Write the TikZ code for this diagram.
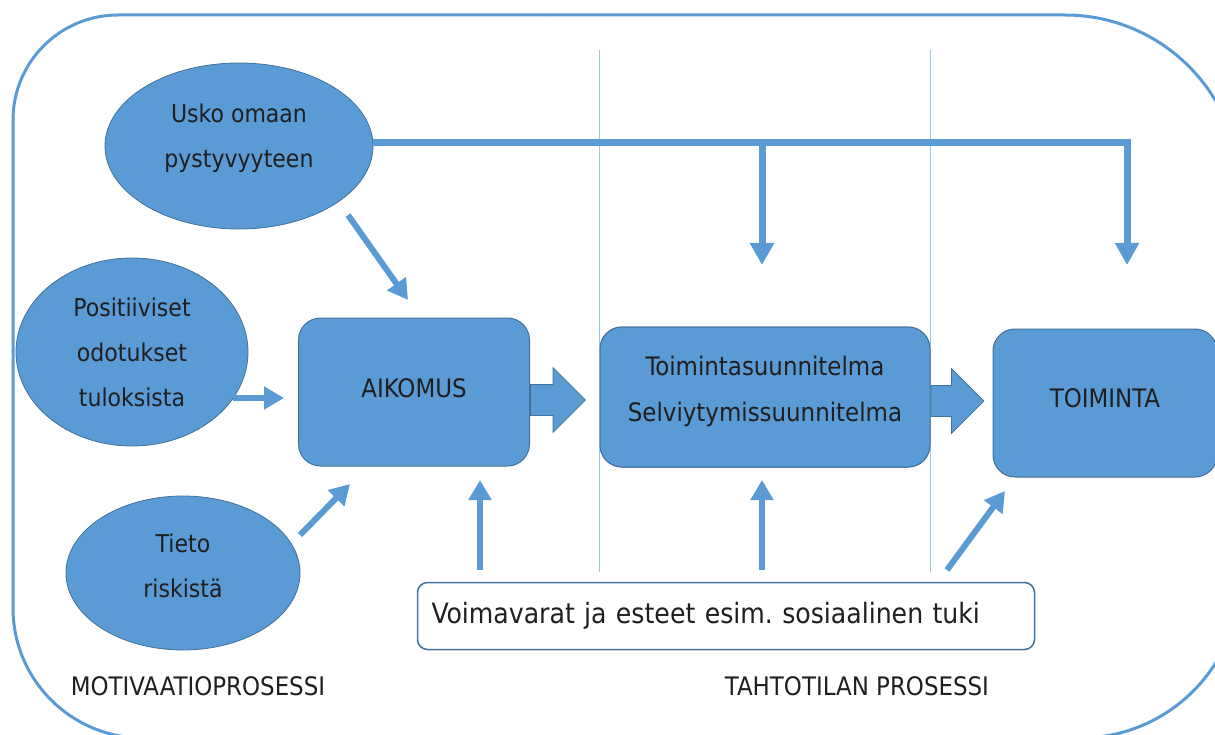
\documentclass[tikz,border=0pt]{standalone}
\usepackage{fontspec}
\setmainfont{DejaVu Sans Condensed}
\usetikzlibrary{shapes.geometric,shapes.arrows,arrows.meta,positioning}
\definecolor{blu}{HTML}{5B9BD5}
\definecolor{bluedge}{HTML}{41719C}
\definecolor{thinblu}{HTML}{9DC3E6}

\begin{document}
\begin{tikzpicture}[x=1pt, y=-1pt,
                    every node/.style = {align=center, text=black!88,
                    font=\fontsize{24.5}{45}\selectfont},
                    frame/.style = {draw=blu, line width=3pt, line cap=round},
                    oval/.style = {ellipse, fill=blu, draw=bluedge,
                    line width=0.8pt, inner sep=0pt},
                    stage/.style = {rectangle, rounded corners=22pt,
                    fill=blu, draw=bluedge, line width=1pt,
                    font=\fontsize{25.5}{46}\selectfont},
                    bigarrow/.style = {single arrow, fill=blu, draw=bluedge,
                    line width=0.8pt, inner xsep=0pt, inner ysep=15pt,
                    minimum width=64pt, single arrow head extend=17pt},
                    push/.style = {draw=blu, line width=6pt,
                    -{Triangle[width=22pt,length=20pt]}},
                    feed/.style = {draw=blu, line width=7pt,
                    -{Triangle[width=23pt,length=22pt]}},
                    divider/.style = {draw=thinblu, line width=1.5pt},
                    phase/.style = {font=\fontsize{25.5}{28}\selectfont}]
  \useasboundingbox (0,0) rectangle (1215,735);
  \clip (0,0) rectangle (1215,735);
  \draw[frame, rounded corners=105pt] (550,15) -- (13,15) -- (13,350);
  \draw[frame, rounded corners=175pt] (550,15) -- (1240,15) -- (1240,300);
  \draw[frame, rounded corners=130pt] (13,350) -- (13,738) -- (600,738);
  \draw[frame, rounded corners=160pt] (600,738) -- (1240,738) -- (1240,500);

  \node[stage, minimum width=330pt, minimum height=140pt, text depth=17pt]
    (suunnitelma) at (765,397) {Toimintasuunnitelma\\Selviytymissuunnitelma};
  \draw[divider] (suunnitelma.west |- 0,50) -- (suunnitelma.west |- 0,572);
  \draw[divider] (suunnitelma.east |- 0,50) -- (suunnitelma.east |- 0,572);
  \node[stage, minimum width=330pt, minimum height=140pt, text depth=17pt]
    at (suunnitelma) {Toimintasuunnitelma\\Selviytymissuunnitelma};

  \node[oval, minimum width=268pt, minimum height=166pt, text depth=20pt]
    (usko) at (239,146) {Usko omaan\\pystyvyyteen};
  \node[oval, minimum width=232pt, minimum height=188pt] (odotukset) at (132,352)
    {Positiiviset\\odotukset\\tuloksista};
  \node[oval, minimum width=234pt, minimum height=154pt, text depth=14pt]
    (tieto) at (183,573) {Tieto\\riskistä};
  \node[stage, minimum width=231pt, minimum height=148pt, text depth=8pt]
    (aikomus) at (414,392) {AIKOMUS};
  \node[stage, minimum width=224pt, minimum height=148pt, text depth=10pt]
    (toiminta) at (1105,403) {TOIMINTA};

  \node[bigarrow, minimum height=55pt, right=0pt of aikomus, yshift=-8pt] (a1) {};
  \node[bigarrow, minimum height=53pt, right=0pt of suunnitelma, yshift=-4pt] (a2) {};

  \node[draw=bluedge, line width=1.5pt, rounded corners=10pt, fill=white,
        minimum height=67pt, text width=589pt, inner xsep=14pt, align=left,
        font=\fontsize{28}{32}\selectfont] (tuki) at (726,616)
    {Voimavarat ja esteet esim.\ sosiaalinen tuki};

  \node[phase] (motivaatio) at (198,686) {MOTIVAATIOPROSESSI};
  \node[phase] (tahtotila) at (857,686) {TAHTOTILAN PROSESSI};

  \coordinate (endA) at (762,265);
  \coordinate (endB) at (1127,265);
  \path ([yshift=3pt]usko.east) coordinate (top);
  \draw[feed] (top) -| (endB);
  \draw[feed] (top -| endA) -- (endA);

  \coordinate (u1) at (348,215);  \coordinate (u2) at (408,300);
  \coordinate (o1) at (233,398);  \coordinate (o2) at (284,398);
  \coordinate (t1) at (300,535);  \coordinate (t2) at (350,484);
  \coordinate (v1) at (480,570);  \coordinate (v2) at (480,480);
  \coordinate (s1) at (762,570);  \coordinate (s2) at (762,480);
  \coordinate (w1) at (947,570);  \coordinate (w2) at (1005,491);
  \draw[push] (u1) -- (u2);
  \draw[push] (o1) -- (o2);
  \draw[push] (t1) -- (t2);
  \draw[push] (v1) -- (v2);
  \draw[push] (s1) -- (s2);
  \draw[push] (w1) -- (w2);
\end{tikzpicture}
\end{document}
